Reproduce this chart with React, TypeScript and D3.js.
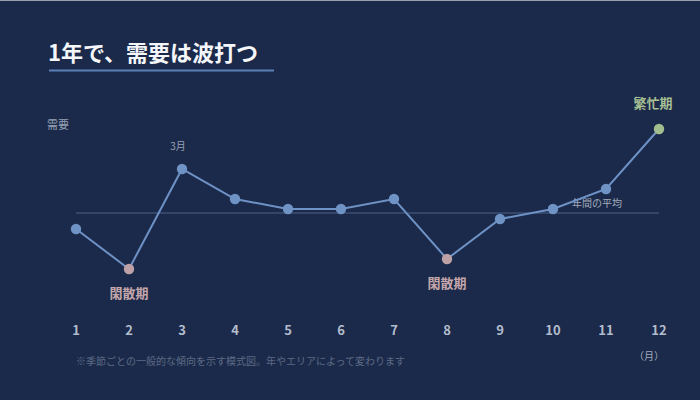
import React from "react";
import * as d3 from "d3";

const months = [1, 2, 3, 4, 5, 6, 7, 8, 9, 10, 11, 12];
const demand = [85, 65, 115, 100, 95, 95, 100, 70, 90, 95, 105, 135];
const averageValue = 93;
const lowMonths = [2, 8];
const peakMonths = [12];
const title = "1年で、需要は波打つ";
const note = "※季節ごとの一般的な傾向を示す模式図。年やエリアによって変わります";

const W = 700;
const H = 400;
const FONT = "'Noto Sans CJK JP', 'Noto Sans', sans-serif";

export default function App() {
  const x = d3.scaleLinear().domain([1, 12]).range([76, 659]);
  const y = d3.scaleLinear().domain([0, 150]).range([399, 99]);
  const line = d3
    .line<number>()
    .x((_, i) => x(months[i]))
    .y((d) => y(d));

  const pointColor = (m: number) =>
    lowMonths.includes(m) ? "#bea1a7" : peakMonths.includes(m) ? "#a3bd8f" : "#7093c6";

  return (
    <div style={{ position: "fixed", left: 0, top: 0, width: W, height: H }}>
      <svg width={W} height={H} style={{ display: "block", fontFamily: FONT }}>
        <rect x={0} y={0} width={W} height={H} fill="#1b2a4a" />
        <rect x={0} y={0} width={W} height={1} fill="#9aa0ab" />
        <text x={48} y={61} fill="#f4f6fa" fontSize={22} fontWeight={700}>
          {title}
        </text>
        <line x1={49} x2={274} y1={70.5} y2={70.5} stroke="#5b80b8" strokeWidth={2} />
        <text x={47} y={129} fill="#98a2b6" fontSize={11}>
          需要
        </text>
        <line
          x1={x(1)}
          x2={x(12)}
          y1={y(averageValue)}
          y2={y(averageValue)}
          stroke="#4d6088"
          strokeWidth={1}
        />
        <text x={572} y={207} fill="#a3abbb" fontSize={10}>
          年間の平均
        </text>
        <path d={line(demand) || ""} fill="none" stroke="#6e92c6" strokeWidth={2} />
        {demand.map((v, i) => (
          <circle key={i} cx={x(months[i])} cy={y(v)} r={5.2} fill={pointColor(months[i])} />
        ))}
        <text x={x(3) - 4} y={150} fill="#98a2b6" fontSize={10} textAnchor="middle">
          3月
        </text>
        {lowMonths.map((m) => (
          <text
            key={m}
            x={x(m)}
            y={y(demand[months.indexOf(m)]) + 29}
            fill="#c4a6ab"
            fontSize={13}
            fontWeight={700}
            textAnchor="middle"
          >
            閑散期
          </text>
        ))}
        {peakMonths.map((m) => (
          <text
            key={m}
            x={x(m) - 6}
            y={y(demand[months.indexOf(m)]) - 21}
            fill="#a6bf93"
            fontSize={13}
            fontWeight={700}
            textAnchor="middle"
          >
            繁忙期
          </text>
        ))}
        {months.map((m) => (
          <text
            key={m}
            x={x(m)}
            y={335}
            fill="#b3bccc"
            fontSize={13}
            fontWeight={700}
            textAnchor="middle"
          >
            {m}
          </text>
        ))}
        <text x={649} y={360} fill="#a3abbb" fontSize={10} textAnchor="middle">
          （月）
        </text>
        <text x={76} y={365} fill="#5d6a86" fontSize={10}>
          {note}
        </text>
      </svg>
    </div>
  );
}
